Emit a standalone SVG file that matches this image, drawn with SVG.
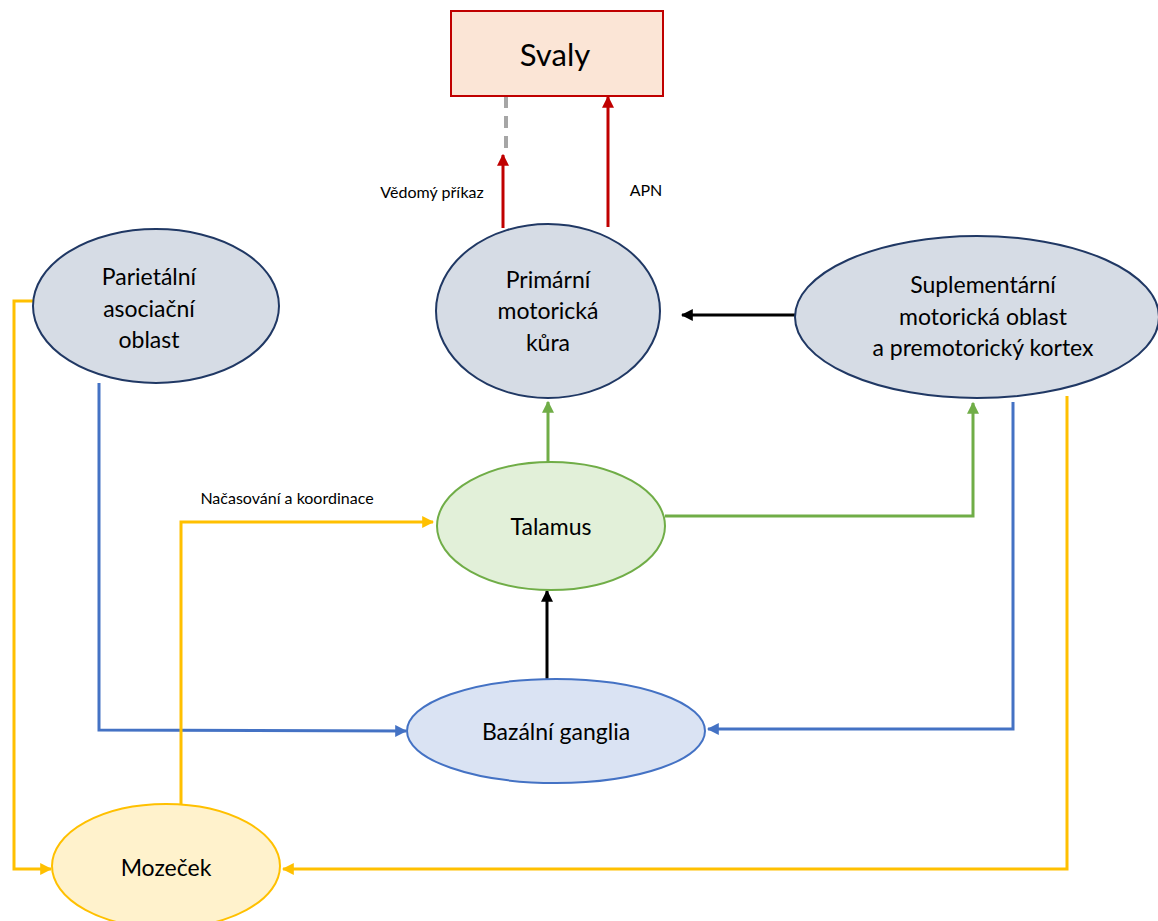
<svg xmlns="http://www.w3.org/2000/svg" width="1158" height="921" viewBox="0 0 1158 921">
<defs>
<style>
text{font-family:Lato,"Open Sans","Liberation Sans",sans-serif;fill:#000;text-anchor:middle}
.lbl{font-size:23px}
.sm{font-size:16px}
.c{fill:none;stroke-width:3}
.red{stroke:#c00000}.blk{stroke:#000}.grn{stroke:#70ad47}.blu{stroke:#4472c4}.yel{stroke:#ffc000}
.gray{fill:#d6dce5;stroke:#203864;stroke-width:2}
</style>
<marker id="aR" viewBox="0 0 10 10" refX="9" refY="5" markerWidth="4" markerHeight="4" orient="auto" markerUnits="strokeWidth"><path d="M0,0L10,5L0,10z" fill="#c00000"/></marker>
<marker id="aK" viewBox="0 0 10 10" refX="9" refY="5" markerWidth="4" markerHeight="4" orient="auto" markerUnits="strokeWidth"><path d="M0,0L10,5L0,10z" fill="#000"/></marker>
<marker id="aG" viewBox="0 0 10 10" refX="9" refY="5" markerWidth="4" markerHeight="4" orient="auto" markerUnits="strokeWidth"><path d="M0,0L10,5L0,10z" fill="#70ad47"/></marker>
<marker id="aB" viewBox="0 0 10 10" refX="9" refY="5" markerWidth="4" markerHeight="4" orient="auto" markerUnits="strokeWidth"><path d="M0,0L10,5L0,10z" fill="#4472c4"/></marker>
<marker id="aY" viewBox="0 0 10 10" refX="9" refY="5" markerWidth="4" markerHeight="4" orient="auto" markerUnits="strokeWidth"><path d="M0,0L10,5L0,10z" fill="#ffc000"/></marker>
</defs>
<rect width="1158" height="921" fill="#fff"/>
<g id="connectors">
<line x1="506" y1="96" x2="506" y2="156" stroke="#a6a6a6" stroke-width="4" stroke-dasharray="12,8"/>
<line class="c red" x1="503" y1="228" x2="503" y2="155" marker-end="url(#aR)"/>
<line class="c red" x1="608" y1="227" x2="608" y2="97" marker-end="url(#aR)"/>
<line class="c blk" x1="795" y1="315" x2="682" y2="315" marker-end="url(#aK)"/>
<line class="c grn" x1="548" y1="462" x2="548" y2="402" marker-end="url(#aG)"/>
<polyline class="c grn" points="665,516 973,516 973,403" marker-end="url(#aG)"/>
<line class="c blk" x1="547" y1="679" x2="547" y2="591" marker-end="url(#aK)"/>
<polyline class="c blu" points="1013,402 1013,729 708,729" marker-end="url(#aB)"/>
<polyline class="c blu" points="99,383 99,730 406,731" marker-end="url(#aB)"/>
<polyline class="c yel" points="1067,396 1067,869 283,869" marker-end="url(#aY)"/>
<polyline class="c yel" points="34,301 14,301 14,869 51,869" marker-end="url(#aY)"/>
<polyline class="c yel" points="181,804 181,522 433,522" marker-end="url(#aY)"/>
<text class="sm" x="432" y="198">Vědomý příkaz</text>
<text class="sm" x="646" y="196">APN</text>
<text class="sm" x="287" y="504">Načasování a koordinace</text>
</g>
<g id="svaly">
<rect x="451" y="11" width="212" height="85" fill="#fbe5d6" stroke="#c00000" stroke-width="2"/>
<text x="555" y="66" font-size="31">Svaly</text>
</g>
<g id="primarni">
<ellipse class="gray" cx="548" cy="311" rx="112" ry="87"/>
<text class="lbl" x="548" y="288">Primární</text>
<text class="lbl" x="548" y="319">motorická</text>
<text class="lbl" x="548" y="351">kůra</text>
</g>
<g id="parietalni">
<ellipse class="gray" cx="156" cy="306" rx="123" ry="77"/>
<text class="lbl" x="149" y="285">Parietální</text>
<text class="lbl" x="149" y="317">asociační</text>
<text class="lbl" x="149" y="348">oblast</text>
</g>
<g id="suplementarni">
<ellipse class="gray" cx="977" cy="317" rx="182" ry="81"/>
<text class="lbl" x="983" y="293">Suplementární</text>
<text class="lbl" x="983" y="325">motorická oblast</text>
<text class="lbl" x="983" y="356">a premotorický kortex</text>
</g>
<g id="talamus">
<ellipse cx="551" cy="526" rx="114" ry="64" fill="#e2f0d9" stroke="#70ad47" stroke-width="2"/>
<text class="lbl" x="551" y="535">Talamus</text>
</g>
<g id="bazalni">
<ellipse cx="556" cy="731" rx="149" ry="52" fill="#dae3f3" stroke="#4472c4" stroke-width="2"/>
<text class="lbl" x="556" y="740">Bazální ganglia</text>
</g>
<g id="mozecek">
<ellipse cx="166" cy="866" rx="114" ry="62" fill="#fff2cc" stroke="#ffc000" stroke-width="2"/>
<text class="lbl" x="166" y="876">Mozeček</text>
</g>
</svg>
